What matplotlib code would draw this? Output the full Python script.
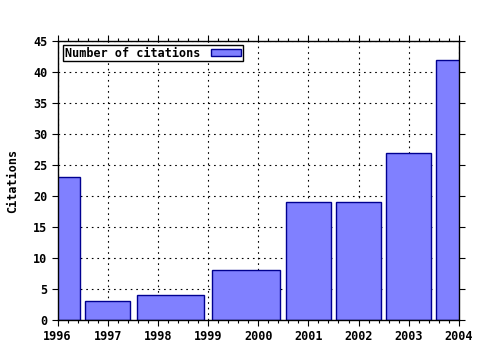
import numpy as np
import matplotlib.pyplot as plt
from matplotlib.ticker import MultipleLocator

# Citations per year (1999 has no entry in the data)
years = [1996, 1997, 1998, 2000, 2001, 2002, 2003, 2004]
citations = [23, 3, 4, 8, 19, 19, 27, 42]
year_ticks = list(range(1996, 2005))
cite_ticks = list(range(0, 46, 5))

x = np.array(years, dtype=float)
# boxes reach halfway to the neighbouring points, scaled by 0.9
mids = (x[1:] + x[:-1]) / 2
left = np.concatenate([[x[0] - (mids[0] - x[0])], mids])
right = np.concatenate([mids, [x[-1] + (x[-1] - mids[-1])]])
centres = (left + right) / 2
widths = (right - left) * 0.9

plt.rcParams['font.family'] = ['DejaVu Sans Mono']
plt.rcParams['font.weight'] = 'bold'
fs = 8.5

fig = plt.figure(figsize=(4.8, 3.5), dpi=100)
ax = fig.add_axes([0.120, 0.0857, 0.836, 0.797])

ax.bar(centres, citations, width=widths, color='#8080ff', edgecolor='#000090',
       linewidth=1.0, label='Number of citations', zorder=3)

ax.set_xlim(year_ticks[0], year_ticks[-1])
ax.set_ylim(cite_ticks[0], cite_ticks[-1])
ax.set_xticks(year_ticks)
ax.set_yticks(cite_ticks)
ax.xaxis.set_minor_locator(MultipleLocator(0.2))
ax.tick_params(axis='both', which='both', direction='out', top=True, right=True,
               labelsize=fs, colors='black', width=0.8)
ax.tick_params(which='major', length=4)
ax.tick_params(which='minor', length=2.5)
for lab in ax.get_xticklabels() + ax.get_yticklabels():
    lab.set_fontweight('bold')

ax.grid(True, which='major', color='black', linestyle=(0, (1.5, 3.5)), linewidth=0.8, zorder=1)
ax.set_axisbelow(True)
for s in ax.spines.values():
    s.set_linewidth(1.0)
    s.set_zorder(4)

ax.set_ylabel('Citations', fontsize=fs, fontweight='bold', labelpad=10)

leg = ax.legend(loc='upper left', bbox_to_anchor=(0.014, 0.985), fontsize=fs,
                frameon=True, fancybox=False, edgecolor='black', framealpha=1,
                handlelength=2.6, handleheight=0.45, handletextpad=0.9,
                borderpad=0.12, borderaxespad=0, markerfirst=False)
leg.get_frame().set_linewidth(1.0)
for t in leg.get_texts():
    t.set_fontweight('bold')

fig.savefig('out.png', dpi=100)
